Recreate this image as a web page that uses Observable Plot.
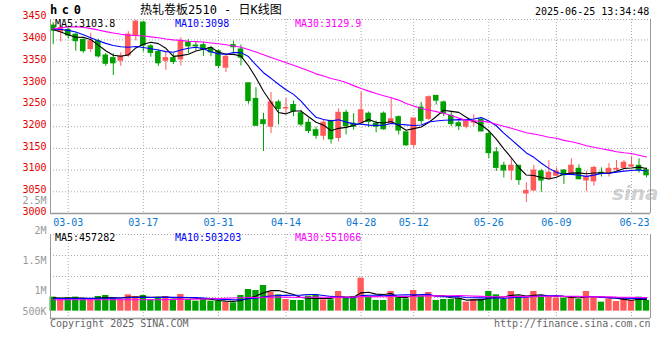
<!DOCTYPE html>
<html><head><meta charset="utf-8">
<script src="https://cdn.jsdelivr.net/npm/d3@7"></script>
<script src="https://cdn.jsdelivr.net/npm/@observablehq/plot@0.6"></script>
<style>
body{margin:0;background:#fff;}
#chart{position:relative;width:660px;height:360px;overflow:hidden;font-family:"DejaVu Sans Mono",monospace;}
#chart svg{position:absolute;left:0;}
.t{position:absolute;white-space:nowrap;line-height:1;font-size:10px;}
</style></head><body><div id="chart"></div>
<script>
// ---------- data ----------
const openP  = [3433,3419,3423,3412,3400,3379,3397,3364,3358,3352, 3364,3410,3440,3385,3372,3352,3358,3355,3394,3387,
                3388,3381,3374,3336,3388,3378,3300,3264,3215,3200, 3256,3242,3250,3231,3209,3192,3179,3212,3174,3232,
                3207,3209,3230,3207,3230,3207,3222,3187,3158,3244, 3218,3271,3256,3225,3208,3200,3210,3216,3183,3141,
                3110,3099,3110,3046,3053,3097,3081,3087,3099,3091, 3103,3076,3074,3094,3092,3101,3105,3108,3110,3100];
const highP  = [3440,3433,3427,3415,3402,3415,3402,3369,3368,3370, 3419,3446,3443,3389,3377,3372,3368,3405,3401,3396,
                3394,3385,3377,3369,3397,3388,3300,3290,3231,3279, 3261,3265,3259,3238,3218,3199,3215,3215,3241,3238,
                3230,3280,3234,3213,3234,3267,3225,3188,3219,3256, 3271,3271,3259,3235,3213,3216,3227,3218,3189,3152,
                3118,3126,3110,3071,3111,3101,3122,3105,3101,3126, 3112,3097,3109,3105,3115,3122,3122,3131,3126,3105];
const lowP   = [3389,3395,3402,3374,3369,3371,3358,3339,3318,3339, 3360,3398,3372,3360,3339,3330,3343,3340,3368,3375,
                3362,3361,3333,3325,3371,3340,3252,3202,3143,3184, 3204,3231,3223,3200,3184,3171,3169,3160,3165,3181,
                3192,3207,3198,3186,3192,3206,3181,3155,3150,3205, 3214,3250,3223,3200,3191,3195,3200,3189,3126,3097,
                3082,3076,3065,3025,3051,3049,3077,3087,3067,3091, 3077,3050,3063,3084,3084,3097,3103,3107,3093,3082];
const closeP = [3421,3427,3410,3397,3374,3397,3362,3345,3346,3362, 3412,3442,3387,3370,3346,3358,3349,3396,3385,3385,
                3378,3371,3340,3361,3383,3359,3259,3202,3206,3256, 3241,3243,3235,3205,3190,3179,3209,3171,3232,3201,
                3200,3238,3211,3200,3194,3217,3191,3157,3219,3213, 3268,3260,3230,3206,3201,3212,3212,3189,3139,3105,
                3099,3110,3077,3052,3099,3076,3094,3097,3088,3110, 3079,3084,3105,3091,3103,3103,3117,3111,3100,3088];
const volumeK = [551,446,525,551,486,446,577,617,512,446, 643,577,617,446,512,577,459,656,459,394,
                 446,394,394,354,328,617,853,814,1010,748, 643,459,420,420,591,617,446,446,774,512,
                 577,1299,551,420,420,774,577,486,814,577, 735,420,459,459,486,354,459,459,774,643,
                 459,774,591,512,774,551,551,512,512,551, 459,774,577,354,486,381,512,420,551,420];
// moving-average values before enough closes exist
const ma5Early  = [3424,3418,3412,3406];
const ma10Early = [3425,3424,3422,3418,3412,3405,3398,3392,3387];
const ma30Early = [3425,3428,3430,3430,3429,3426,3423,3419,3416,3413,3411,3410,3409,3407,3405,
                   3402,3400,3399,3397,3396,3395,3393,3391,3389,3386,3383,3378,3372,3366];
const vma5EarlyK  = [530,520,515,515];
const vma10EarlyK = [490,492,495,497,500,503,506,510,513];
const vma30EarlyK = [450,450,450,450,450,450,450,450,450,450,450,450,450,450,450,
                     455,460,465,470,475,480,490,500,510,520,528,535,540,545];
const dateTickIdx = [2,12,22,31,41,48,58,67,77];
const dateTickLabels = ["03-03","03-17","03-31","04-14","04-28","05-12","05-26","06-09","06-23"];
const priceTicks = [3000,3050,3100,3150,3200,3250,3300,3350,3400,3450];
const volTicks = [500000,1000000,1500000,2000000,2500000];
const maNames = ["MA5","MA10","MA30"];
const priceMALast = ["3103.8","3098","3129.9"];
const volMALast = ["457282","503203","551066"];
const symbol = "hc0";
const title = "热轧卷板2510 - 日K线图";
const stamp = "2025-06-25 13:34:48";

// ---------- derived ----------
const n = openP.length;
const candles = d3.range(n).map(i => ({i, open: openP[i], high: highP[i], low: lowP[i], close: closeP[i],
  vol: volumeK[i] * 1000, up: closeP[i] >= openP[i]}));
const ups = candles.filter(d => d.up), downs = candles.filter(d => !d.up);
function movingAvg(values, w, early) {
  return values.map((_, i) => ({i, v: i < w - 1 ? early[i] : d3.mean(values.slice(i - w + 1, i + 1))}));
}
const vols = candles.map(d => d.vol);
const priceMA = [movingAvg(closeP, 5, ma5Early), movingAvg(closeP, 10, ma10Early), movingAvg(closeP, 30, ma30Early)];
const volMA = [movingAvg(vols, 5, vma5EarlyK.map(v => v*1000)), movingAvg(vols, 10, vma10EarlyK.map(v => v*1000)),
               movingAvg(vols, 30, vma30EarlyK.map(v => v*1000))];

// ---------- style ----------
const RED = "#ff5959", GREEN = "#00a000", GRID = "#a8a8a8", FRAME = "#999", BLUE_T = "#0a78d0";
const maColors = ["#000000", "#0000ff", "#ff00ff"];
const FONT = "DejaVu Sans Mono";
const xDomain = [-0.36, 79.53];
const priceDomain = [3000, 3447];
const volDomain = [-0.29e6, 3.02e6];
const bodyHalf = 0.37, barHalf = 0.42;
const dot = {stroke: GRID, strokeDasharray: "1,2"};
const labelOf = new Map(dateTickIdx.map((d, k) => [d, dateTickLabels[k]]));
const baseStyle = {fontFamily: FONT, fontSize: "10px", background: "transparent", overflow: "visible"};

const chart = document.getElementById("chart");

const main = Plot.plot({
  width: 660, height: 232, marginTop: 19, marginBottom: 19, marginLeft: 50, marginRight: 10,
  style: baseStyle,
  x: {domain: xDomain, axis: null, label: null},
  y: {domain: priceDomain, axis: null, label: null},
  marks: [
    Plot.ruleY(priceTicks.filter(v => v > priceDomain[0] && v < priceDomain[1]), dot),
    Plot.ruleY([priceDomain[1]], dot),
    Plot.ruleX(dateTickIdx, dot),
    Plot.ruleX(ups, {x: "i", y1: "low", y2: "high", stroke: RED}),
    Plot.ruleX(downs, {x: "i", y1: "low", y2: "high", stroke: GREEN}),
    Plot.rect(ups, {x1: d => d.i - bodyHalf, x2: d => d.i + bodyHalf, y1: "open", y2: "close", fill: RED, insetTop: -0.5, insetBottom: -0.5}),
    Plot.rect(downs, {x1: d => d.i - bodyHalf, x2: d => d.i + bodyHalf, y1: "open", y2: "close", fill: GREEN, insetTop: -0.5, insetBottom: -0.5}),
    ...priceMA.map((s, k) => Plot.line(s, {x: "i", y: "v", stroke: maColors[k], strokeWidth: 1.1})),
    Plot.ruleX([xDomain[0]], {stroke: FRAME}),
    Plot.ruleX([xDomain[1]], {stroke: FRAME}),
    Plot.ruleY([priceDomain[0]], {stroke: FRAME, strokeWidth: 1.5}),
    Plot.axisY(priceTicks, {anchor: "left", tickSize: 0, tickPadding: 4, color: "#e60000", dy: -2, label: null, tickFormat: d => String(d)}),
    Plot.axisX(dateTickIdx.slice(0, -1), {anchor: "bottom", tickSize: 0, tickPadding: 5, color: BLUE_T, label: null, tickFormat: d => labelOf.get(d)}),
    Plot.axisX(dateTickIdx.slice(-1), {anchor: "bottom", tickSize: 0, tickPadding: 5, color: BLUE_T, dx: 3, label: null, tickFormat: d => labelOf.get(d)})
  ]
});
main.style.top = "0px";
chart.appendChild(main);

const volPlot = Plot.plot({
  width: 660, height: 100, marginTop: 8, marginBottom: 8, marginLeft: 50, marginRight: 10,
  style: baseStyle,
  x: {domain: xDomain, axis: null, label: null},
  y: {domain: volDomain, axis: null, label: null},
  marks: [
    Plot.ruleY(d3.range(1, 4).map(k => volDomain[0] + (volDomain[1] - volDomain[0]) * k / 4), dot),
    Plot.ruleY([volDomain[1]], dot),
    Plot.ruleX(dateTickIdx, dot),
    Plot.rect(ups, {x1: d => d.i - barHalf, x2: d => d.i + barHalf, y1: 0, y2: "vol", fill: RED}),
    Plot.rect(downs, {x1: d => d.i - barHalf, x2: d => d.i + barHalf, y1: 0, y2: "vol", fill: GREEN}),
    ...volMA.map((s, k) => Plot.line(s, {x: "i", y: "v", stroke: maColors[k], strokeWidth: 1.1})),
    Plot.ruleX([xDomain[0]], {stroke: FRAME}),
    Plot.ruleX([xDomain[1]], {stroke: FRAME}),
    Plot.ruleY([volDomain[0]], {stroke: FRAME, strokeWidth: 1.5})
  ]
});
volPlot.style.top = "226px";
chart.appendChild(volPlot);

// volume tick labels follow their own linear scale, as in the reference
const fmtVol = d => d >= 1e6 ? (d / 1e6) + "M" : (d / 1e3) + "K";
const volAxis = Plot.plot({
  width: 660, height: 360, marginTop: 200.7, marginBottom: 48.3, marginLeft: 50, marginRight: 10,
  style: Object.assign({}, baseStyle, {pointerEvents: "none"}),
  y: {domain: [0.65e6, 2.5e6], clamp: true, axis: null, label: null},
  marks: [Plot.axisY(volTicks, {anchor: "left", tickSize: 0, tickPadding: 4, color: "#999", label: null, tickFormat: fmtVol})]
});
volAxis.style.top = "0px";
chart.appendChild(volAxis);

// ---------- texts ----------
function addText(txt, left, top, css) {
  const s = document.createElement("div");
  s.className = "t";
  s.textContent = txt;
  s.style.left = left + "px";
  s.style.top = top + "px";
  Object.assign(s.style, css || {});
  chart.appendChild(s);
  return s;
}
addText(symbol, 50, 4, {fontSize: "12px", fontWeight: "bold", letterSpacing: "4.6px", color: "#000"});
addText(title, 140, 4, {fontSize: "12px", fontFamily: "'DejaVu Sans Mono','Noto Sans CJK SC',monospace", color: "#000"});
addText(stamp, 535, 7, {color: "#000"});
const legendX = [55, 175, 295];
maNames.forEach((m, k) => {
  addText(m + ":" + priceMALast[k], legendX[k], 19, {color: maColors[k]});
  addText(m + ":" + volMALast[k], legendX[k], 233, {color: maColors[k]});
});
addText("Copyright 2025 SINA.COM", 50, 319, {color: "#666"});
addText("http://finance.sina.com.cn", 494, 319, {color: "#666"});
addText("sina", 612, 183, {fontSize: "20px", fontWeight: "bold", fontStyle: "italic", fontFamily: "'DejaVu Sans',sans-serif", color: "rgba(150,150,150,0.45)"});
</script></body></html>
